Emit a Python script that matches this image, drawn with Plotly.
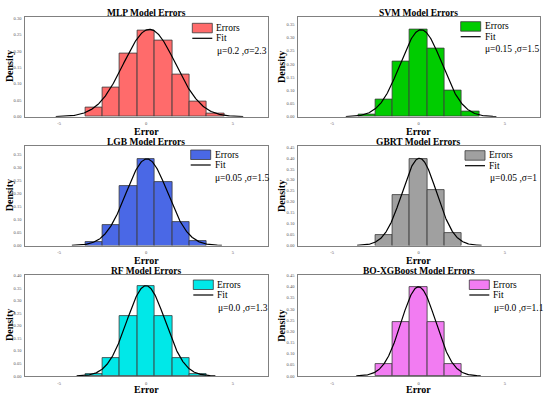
import plotly.graph_objects as go
import numpy as np

# ---------------- data ----------------
titles = ["MLP Model Errors", "SVM Model Errors", "LGB Model Errors",
          "GBRT Model Errors", "RF Model Errors", "BO-XGBoost Model Errors"]
bar_colors = ["#FF6B6B", "#00CC00", "#4A68E6", "#A0A0A0", "#00E8E8", "#F27CF2"]

mlp_bins = [-3, -2, -1, 0, 1, 2, 3, 4]
mlp_density = [0.027, 0.090, 0.193, 0.263, 0.231, 0.129, 0.046, 0.010]

svm_bins = [-3, -2, -1, 0, 1, 2, 3]
svm_density = [0.009, 0.067, 0.210, 0.331, 0.258, 0.100, 0.019]

lgb_bins = [-3, -2, -1, 0, 1, 2, 3]
lgb_density = [0.014, 0.079, 0.228, 0.334, 0.244, 0.090, 0.018]

gbrt_bins = [-2, -1, 0, 1, 2]
gbrt_density = [0.050, 0.230, 0.396, 0.252, 0.058]

rf_bins = [-3, -2, -1, 0, 1, 2, 3]
rf_density = [0.009, 0.070, 0.239, 0.360, 0.239, 0.070, 0.009]

bo_bins = [-2, -1, 0, 1, 2]
bo_density = [0.055, 0.241, 0.397, 0.241, 0.055]

bins_all = [mlp_bins, svm_bins, lgb_bins, gbrt_bins, rf_bins, bo_bins]
dens_all = [mlp_density, svm_density, lgb_density, gbrt_density, rf_density, bo_density]

# fitted normal curves (mean, sigma of drawn curve) and legend labels
fit_mu = [0.2, 0.15, 0.05, 0.05, 0.0, 0.0]
fit_sigma_curve = [1.5, 1.21, 1.2, 1.0, 1.11, 1.0]
fit_labels = ["μ=0.2 ,σ=2.3", "μ=0.15 ,σ=1.5", "μ=0.05 ,σ=1.5",
              "μ=0.05 ,σ=1", "μ=0.0 ,σ=1.3", "μ=0.0 ,σ=1.1"]

y_max = [0.305, 0.38, 0.382, 0.455, 0.402, 0.452]
x_range = [-7, 7]
x_ticks = [-5, 0, 5]

# ---------------- layout geometry (pixels) ----------------
W, H = 550, 399
col_px = [(24.5, 267.5), (297.5, 539.5)]
row_px = [(16.5, 116.7), (146.0, 245.5), (275.0, 376.0)]
title_y_px = [12.7, 141.5, 270.7]
xlabel_y_px = [131.5, 260.5, 389.5]
ylabel_x_px = [9.5, 281.3]
legend_px = [(192.3, 23.3), (460.7, 21.7), (190.7, 150.0),
             (465.0, 150.7), (193.3, 280.0), (469.3, 280.0)]
SW_W, SW_H = 20.0, 9.5

SERIF = "Liberation Serif, Times New Roman, serif"

fig = go.Figure()
annotations = []
shapes = []


def px(x):
    return x / W


def py(y):
    return 1 - y / H


for i in range(6):
    r, c = divmod(i, 2)
    idx = "" if i == 0 else str(i + 1)
    xa, ya = "x" + idx, "y" + idx
    x0p, x1p = col_px[c]
    y0p, y1p = row_px[r]
    xdom = [px(x0p), px(x1p)]
    ydom = [py(y1p), py(y0p)]

    fig.add_trace(go.Bar(
        x=bins_all[i], y=dens_all[i], width=1.0,
        marker=dict(color=bar_colors[i], line=dict(color="#3a3a3a", width=0.8)),
        xaxis=xa, yaxis=ya, showlegend=False, hoverinfo="skip"))

    mu, sg = fit_mu[i], fit_sigma_curve[i]
    xs = np.linspace(mu - 3.6 * sg, mu + 3.6 * sg, 300)
    ys = np.exp(-0.5 * ((xs - mu) / sg) ** 2) / (sg * np.sqrt(2 * np.pi))
    fig.add_trace(go.Scatter(
        x=xs, y=ys, mode="lines", line=dict(color="black", width=1.2),
        xaxis=xa, yaxis=ya, showlegend=False, hoverinfo="skip"))

    axis_common = dict(showline=True, mirror=True, linecolor="#808080", linewidth=1.3,
                       showgrid=False, zeroline=False, ticks="", automargin=False,
                       tickfont=dict(family=SERIF, size=4.5, color="#555555"))
    fig.layout["xaxis" + idx] = dict(
        domain=xdom, anchor=ya, range=x_range, tickvals=x_ticks,
        ticktext=[str(t) for t in x_ticks], ticklabelstandoff=2, **axis_common)
    fig.layout["yaxis" + idx] = dict(
        domain=ydom, anchor=xa, range=[0, y_max[i]], dtick=0.05, tickformat=".2f",
        ticklabelstandoff=1, **axis_common)

    cx = px((x0p + x1p) / 2)
    annotations.append(dict(text="<b>" + titles[i] + "</b>", x=cx, y=py(title_y_px[r]),
                            xref="paper", yref="paper", showarrow=False,
                            font=dict(family=SERIF, size=9.5, color="black"),
                            xanchor="center", yanchor="middle"))
    annotations.append(dict(text="<b>Error</b>", x=cx, y=py(xlabel_y_px[r]),
                            xref="paper", yref="paper", showarrow=False,
                            font=dict(family=SERIF, size=10, color="black"),
                            xanchor="center", yanchor="middle"))
    annotations.append(dict(text="<b>Density</b>", x=px(ylabel_x_px[c]),
                            y=py((y0p + y1p) / 2), textangle=-90,
                            xref="paper", yref="paper", showarrow=False,
                            font=dict(family=SERIF, size=10, color="black"),
                            xanchor="center", yanchor="middle"))

    # custom legend inside plot (top right)
    lx, ly = legend_px[i]
    fit_line_y = ly + 15.0
    mu_text_y = ly + 27.5
    shapes.append(dict(type="rect", xref="paper", yref="paper",
                       x0=px(lx), x1=px(lx + SW_W), y0=py(ly + SW_H), y1=py(ly),
                       fillcolor=bar_colors[i], line=dict(color="#3a3a3a", width=0.8)))
    shapes.append(dict(type="line", xref="paper", yref="paper",
                       x0=px(lx), x1=px(lx + SW_W), y0=py(fit_line_y), y1=py(fit_line_y),
                       line=dict(color="black", width=1.2)))
    legend_font = dict(family=SERIF, size=9.5, color="black")
    annotations.append(dict(text="Errors", x=px(lx + SW_W + 2), y=py(ly + SW_H / 2),
                            xref="paper", yref="paper", showarrow=False, font=legend_font,
                            xanchor="left", yanchor="middle"))
    annotations.append(dict(text="Fit", x=px(lx + SW_W + 2), y=py(fit_line_y),
                            xref="paper", yref="paper", showarrow=False, font=legend_font,
                            xanchor="left", yanchor="middle"))
    annotations.append(dict(text=fit_labels[i], x=px(lx + SW_W + 2.5), y=py(mu_text_y),
                            xref="paper", yref="paper", showarrow=False, font=legend_font,
                            xanchor="left", yanchor="middle"))

fig.update_layout(template="none", width=W, height=H, margin=dict(l=0, r=0, t=0, b=0),
                  paper_bgcolor="white", plot_bgcolor="white",
                  bargap=0, annotations=annotations, shapes=shapes, showlegend=False)

fig.write_html("out.html", config={"displayModeBar": False},
               post_script="document.body.style.margin='0';document.body.style.padding='0';")
